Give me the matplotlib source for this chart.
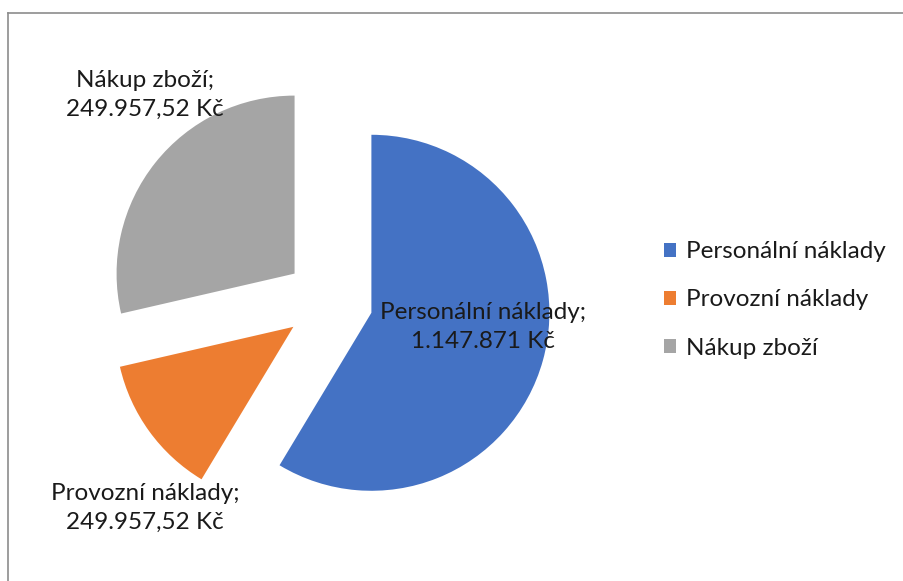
import matplotlib
matplotlib.use("Agg")
import matplotlib.pyplot as plt
from matplotlib.lines import Line2D

# ---- data ----
categories = ["Personální náklady", "Provozní náklady", "Nákup zboží"]
values = [1147871, 249957.52, 560000]          # slice sizes as drawn
label_texts = ["1.147.871 Kč", "249.957,52 Kč", "249.957,52 Kč"]  # data-label values as printed
colors = ["#4472C4", "#ED7D31", "#A5A5A5"]

W, H = 904, 581
fig = plt.figure(figsize=(W / 100, H / 100), dpi=100)
ax = fig.add_axes([0, 0, 1, 1])

plt.rcParams['font.family'] = ['Lato', 'DejaVu Sans']
FS = 17.5
TXT = "#1a1a1a"

radius = 178
center = (329, H - 301)
explode = [44] * len(values)

wedges, _ = ax.pie(values, colors=colors, startangle=90, counterclock=False,
                   radius=radius, center=center, explode=explode,
                   wedgeprops=dict(linewidth=0))
ax.set_xlim(0, W)
ax.set_ylim(0, H)
ax.set_aspect('equal')
ax.axis('off')

# data labels (positions in pixel layout)
label_pos = [(483, H - 327), (145, H - 508), (145, H - 95)]
for cat, lt, (x, y) in zip(categories, label_texts, label_pos):
    ax.text(x, y, f"{cat};\n{lt}", ha='center', va='center', fontsize=FS,
            color=TXT, linespacing=1.5)

leg = ax.legend(wedges, categories, loc='center left',
                bbox_to_anchor=(664 / W, 1 - 300 / H), frameon=False,
                fontsize=FS, handlelength=0.5, handleheight=0.5,
                handletextpad=0.4, labelspacing=1.12, labelcolor=TXT,
                borderpad=0, borderaxespad=0)

# chart border (top and left visible)
bc = "#8c8c8c"
fig.add_artist(Line2D([7.5 / W, 1], [1 - 12.5 / H, 1 - 12.5 / H], color=bc, lw=1.2,
                      transform=fig.transFigure))
fig.add_artist(Line2D([7.5 / W, 7.5 / W], [0, 1 - 12.5 / H], color=bc, lw=1.2,
                      transform=fig.transFigure))

fig.savefig("out.png", dpi=100, facecolor='white')
